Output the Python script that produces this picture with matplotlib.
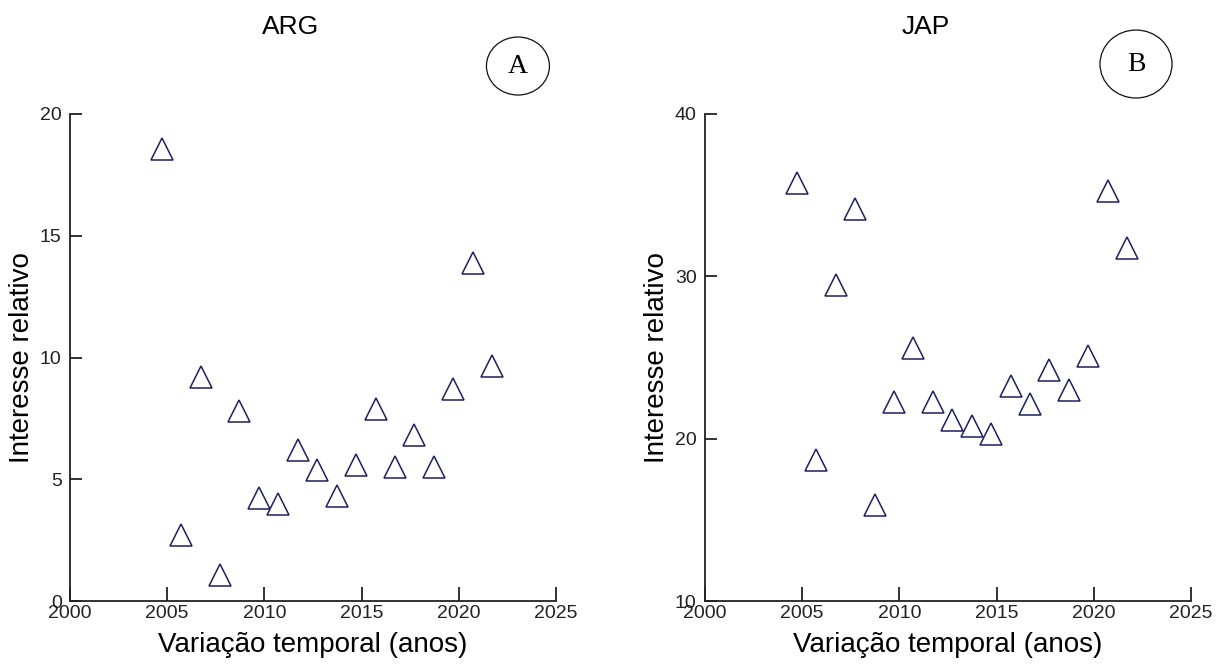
import numpy as np
import matplotlib
matplotlib.use("Agg")
import matplotlib.pyplot as plt
from matplotlib.patches import Ellipse

# anos (posição decimal de cada ponto no eixo)
anos = [2004.72, 2005.72, 2006.72, 2007.72, 2008.72, 2009.72, 2010.72, 2011.72, 2012.72,
        2013.72, 2014.72, 2015.72, 2016.72, 2017.72, 2018.72, 2019.72, 2020.72, 2021.72]

# interesse relativo - Argentina
arg = [18.55, 2.72, 9.2, 1.05, 7.8, 4.22, 3.97, 6.21, 5.38,
       4.3, 5.57, 7.9, 5.5, 6.81, 5.5, 8.72, 13.9, 9.64]

# interesse relativo - Japao
jap = [35.75, 18.67, 29.45, 34.15, 15.93, 22.24, 25.57, 22.24, 21.13,
       20.76, 20.28, 23.23, 22.13, 24.25, 22.97, 25.08, 35.28, 31.77]

xticks = [2000, 2005, 2010, 2015, 2020, 2025]
yticks_arg = [0, 5, 10, 15, 20]
yticks_jap = [10, 20, 30, 40]

cor = '#1f1f5e'
fonte = ['Liberation Sans', 'Arial', 'DejaVu Sans']

fig = plt.figure(figsize=(12.21, 6.69), dpi=100)
ax1 = fig.add_axes([0.0573, 0.1016, 0.398, 0.728])
ax2 = fig.add_axes([0.5774, 0.1016, 0.398, 0.728])


def painel(ax, y, yticks):
    ax.plot(anos, y, linestyle='none', marker='^', markersize=16.5,
            markerfacecolor='none', markeredgecolor=cor, markeredgewidth=1.1)
    ax.set_xlim(2000, 2025)
    ax.set_ylim(yticks[0], yticks[-1])
    ax.set_xticks(xticks)
    ax.set_yticks(yticks)
    for s in ['top', 'right']:
        ax.spines[s].set_visible(False)
    for s in ['left', 'bottom']:
        ax.spines[s].set_linewidth(1.3)
        ax.spines[s].set_color('#222222')
    ax.tick_params(axis='x', direction='in', length=10, width=1.3, pad=3,
                   colors='#222222')
    ax.tick_params(axis='y', direction='in', length=8.5, width=1.3, pad=6,
                   colors='#222222')
    for lb in ax.get_xticklabels() + ax.get_yticklabels():
        lb.set_family(fonte)
        lb.set_fontsize(14)
        lb.set_color('#222222')
    ax.set_xlabel('Variação temporal (anos)', family=fonte, fontsize=20, labelpad=7)
    ax.set_ylabel('Interesse relativo', family=fonte, fontsize=20)
    ax.yaxis.set_label_coords(-0.072, 0.5)


painel(ax1, arg, yticks_arg)
painel(ax2, jap, yticks_jap)

# titulos
fig.text(0.2383, 0.959, 'ARG', ha='center', va='center', family=fonte, fontsize=19)
fig.text(0.7584, 0.959, 'JAP', ha='center', va='center', family=fonte, fontsize=19)

# letras dos paineis dentro de elipses
for cx, cy, w, h, letra in [(0.4242, 0.9013, 0.0516, 0.0867, 'A'),
                            (0.9304, 0.9043, 0.0590, 0.1016, 'B')]:
    fig.add_artist(Ellipse((cx, cy), w, h, transform=fig.transFigure,
                           fill=False, edgecolor='#111111', linewidth=0.9))
    fig.text(cx, cy, letra, ha='center', va='center', fontsize=20,
             family=['Liberation Serif', 'DejaVu Serif'])

fig.savefig('out.png', dpi=100, facecolor='white')
